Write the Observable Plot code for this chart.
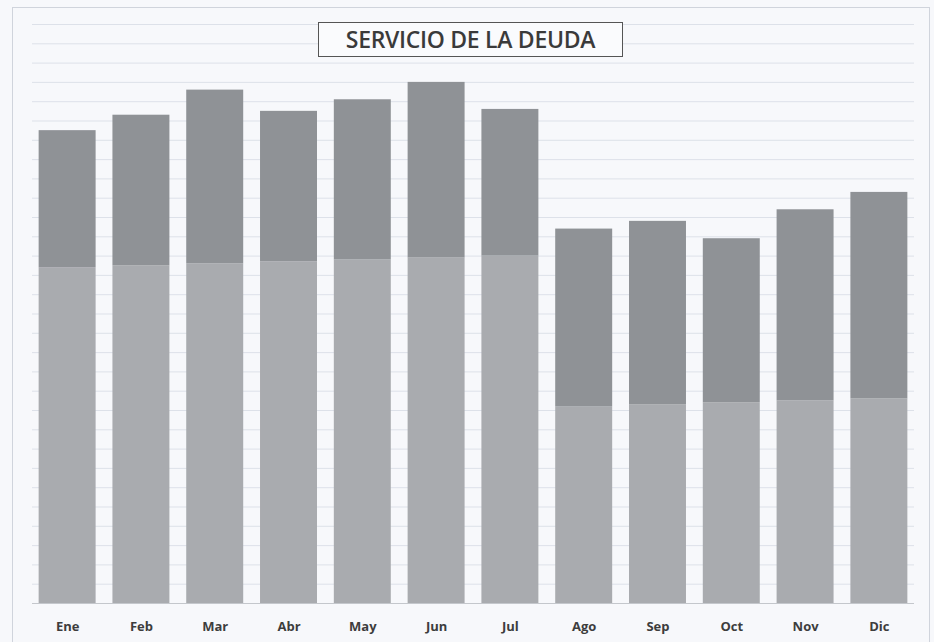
<!DOCTYPE html>
<html>
<head>
<meta charset="utf-8">
<script src="https://cdn.jsdelivr.net/npm/d3@7"></script>
<script src="https://cdn.jsdelivr.net/npm/@observablehq/plot@0.6"></script>
<style>
  html, body { margin: 0; padding: 0; background: #f7f8fb; }
  #wrap { position: relative; width: 934px; height: 642px; overflow: hidden; }
  #frame { position: absolute; left: 12px; top: 7px; width: 918px; height: 640px; border: 1px solid #d0d4dc; box-sizing: border-box; pointer-events: none; }
  #title { position: absolute; left: 318px; top: 22px; width: 305px; height: 35px; box-sizing: border-box;
    border: 1.5px solid #555; background: #fafbfd; font-family: "Open Sans", sans-serif; font-weight: 600;
    font-size: 23px; color: #3a3a3a; text-align: center; line-height: 32px; letter-spacing: -0.3px; }
  svg { position: absolute; left: 0; top: 0; }
</style>
</head>
<body>
<div id="wrap">
  <div id="chart"></div>
  <div id="frame"></div>
  <div id="title">SERVICIO DE LA DEUDA</div>
</div>
<script>
const months = ["Ene","Feb","Mar","Abr","May","Jun","Jul","Ago","Sep","Oct","Nov","Dic"];
const lowerValues = [17.4, 17.5, 17.6, 17.7, 17.8, 17.9, 18.0, 10.2, 10.3, 10.4, 10.5, 10.6];
const upperValues = [7.1, 7.8, 9.0, 7.8, 8.3, 9.1, 7.6, 9.2, 9.5, 8.5, 9.9, 10.7];
const seriesNames = ["Serie 1", "Serie 2"];
const gridValues = d3.range(1, 31);

const data = [];
months.forEach((m, i) => {
  data.push({month: m, series: seriesNames[0], value: lowerValues[i]});
  data.push({month: m, series: seriesNames[1], value: upperValues[i]});
});

const chart = Plot.plot({
  width: 934,
  height: 642,
  marginLeft: 32,
  marginRight: 20,
  marginTop: 24,
  marginBottom: 39,
  style: {background: "transparent", fontFamily: "'Open Sans', sans-serif"},
  x: {domain: months, paddingInner: 0.228, paddingOuter: 0.09, round: false, label: null},
  y: {domain: [0, 30], axis: null},
  color: {domain: seriesNames, range: ["#a9abaf", "#8f9296"]},
  marks: [
    Plot.ruleY(gridValues, {stroke: "#dde1e9", strokeWidth: 1}),
    Plot.barY(data, {x: "month", y: "value", fill: "series", order: seriesNames}),
    Plot.ruleY([0], {stroke: "#c4c7cc", strokeWidth: 1}),
    Plot.axisX({tickSize: 0, tickPadding: 18, fontSize: 13, fontWeight: "bold", fill: "#3d3d3d", label: null})
  ]
});
document.getElementById("chart").appendChild(chart);
</script>
</body>
</html>
